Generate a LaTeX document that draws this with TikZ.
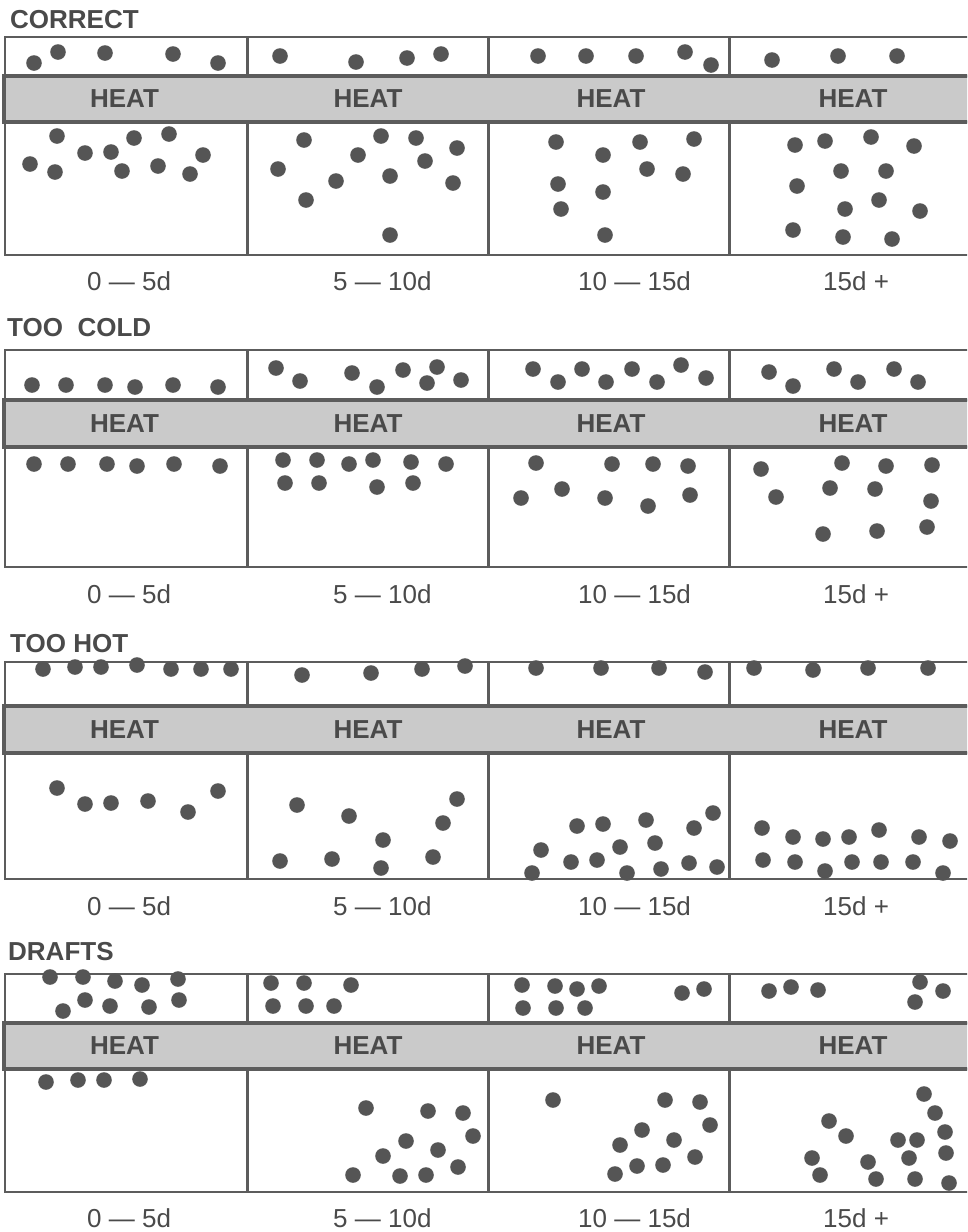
\documentclass[tikz,border=0pt]{standalone}
\usepackage{fontspec}
\setmainfont{Liberation Sans}
\definecolor{ink}{HTML}{4A4A4A}
\definecolor{linecol}{HTML}{5C5C5C}
\definecolor{dotcol}{HTML}{555555}
\definecolor{heatfill}{HTML}{CACACA}
\tikzset{
  boxline/.style={draw=linecol, line width=2pt},
  divline/.style={draw=linecol, line width=3pt},
  heatbar/.style={draw=linecol, line width=3.5pt, fill=heatfill},
  heattext/.style={text=ink, font=\fontsize{26}{30}\selectfont\bfseries, inner sep=0pt, anchor=center},
  titletext/.style={text=ink, font=\fontsize{26}{30}\selectfont\bfseries, inner sep=0pt, anchor=base west},
  labtext/.style={text=ink, font=\fontsize{26}{30}\selectfont, inner sep=0pt, anchor=base west},
  dotfill/.style={fill=dotcol}
}
\newcommand\heatrow[6]{%
  \draw[boxline] (5,#2) rectangle (985,#3);
  \draw[boxline] (5,#4) rectangle (985,#5);
  \foreach \xx in {247,488,729} {\draw[divline] (\xx,#2) -- (\xx,#3); \draw[divline] (\xx,#4) -- (\xx,#5);}
  \draw[heatbar] (4,#3) rectangle (990,#4);
  \node[heattext] (heat#1a) at (124.5,{(#3+#4)/2}) {HEAT};
  \node[heattext] (heat#1b) at (368,{(#3+#4)/2}) {HEAT};
  \node[heattext] (heat#1c) at (611,{(#3+#4)/2}) {HEAT};
  \node[heattext] (heat#1d) at (853,{(#3+#4)/2}) {HEAT};
  \node[labtext] (lab#1a) at (87,#6) {0 — 5d};
  \node[labtext] (lab#1b) at (333,#6) {5 — 10d};
  \node[labtext] (lab#1c) at (578,#6) {10 — 15d};
  \node[labtext] (lab#1d) at (823,#6) {15d +};
}
\newcommand\dotset[1]{\foreach \p in {#1} \fill[dotfill] \p circle[radius=7.8pt];}
\begin{document}
\begin{tikzpicture}[x=1pt,y=-1pt]
\useasboundingbox (0,0) rectangle (967,1232);
\clip (0,0) rectangle (967,1232);
\fill[white] (0,0) rectangle (967,1232);
% titles
\node[titletext] (t1) at (10,28) {CORRECT};
\node[titletext] (t2) at (7,336) {TOO\ \ COLD};
\node[titletext] (t3) at (10,652) {TOO HOT};
\node[titletext] (t4) at (8,960) {DRAFTS};
% rows
\heatrow{1}{37}{76}{122}{255}{290}
\heatrow{2}{350}{400}{447}{567}{603}
\heatrow{3}{662}{706}{753}{879}{915}
\heatrow{4}{974}{1023}{1069}{1192}{1227}
% CORRECT
\dotset{(34,63),(58,52),(105,53),(173,54),(218,63),
(280,56),(356,62),(407,58),(441,54),
(538,56),(586,56),(636,56),(685,52),(711,65),
(772,60),(838,56),(897,56),
(57,136),(30,164),(55,172),(85,153),(111,152),(134,138),(169,134),(122,171),(158,166),(203,155),(190,174),
(304,140),(278,169),(306,200),(336,181),(358,155),(381,136),(390,176),(416,138),(425,161),(457,148),(453,183),(390,235),
(556,142),(603,155),(640,142),(694,139),(558,184),(603,192),(647,169),(683,174),(561,209),(605,235),
(795,145),(825,141),(871,137),(914,146),(841,171),(886,171),(797,186),(879,200),(845,209),(920,211),(793,230),(843,237),(892,239)}
% TOO COLD
\dotset{(32,385),(66,385),(105,385),(135,387),(173,385),(218,387),
(276,368),(300,381),(352,373),(377,387),(403,370),(437,367),(427,383),(461,380),
(533,369),(558,382),(582,369),(606,382),(632,369),(657,382),(681,365),(706,378),
(769,372),(793,386),(834,369),(858,382),(894,369),(918,382),
(34,464),(68,464),(107,464),(137,466),(174,464),(220,466),
(283,460),(317,460),(349,464),(373,460),(411,462),(446,464),(285,483),(319,483),(377,487),(413,483),
(536,463),(612,464),(653,464),(688,466),(521,498),(562,489),(605,498),(648,506),(690,495),
(761,469),(842,463),(886,466),(932,465),(776,497),(830,488),(875,489),(931,501),(823,534),(877,531),(927,527)}
% TOO HOT
\dotset{(43,669),(75,667),(101,667),(137,665),(171,669),(201,669),(231,669),
(302,675),(371,673),(422,669),(465,666),
(536,668),(601,668),(659,668),(705,672),
(754,668),(813,670),(868,668),(928,668),
(57,788),(85,804),(111,803),(148,801),(188,812),(218,791),
(297,805),(349,816),(457,799),(443,823),(383,840),(280,861),(332,859),(381,868),(433,857),
(532,873),(541,850),(577,826),(603,824),(571,862),(597,860),(620,847),(627,873),(646,820),(655,843),(661,869),(694,828),(713,813),(689,863),(717,867),
(762,828),(793,837),(823,839),(849,837),(879,830),(919,837),(950,841),(763,860),(795,862),(825,871),(852,862),(881,862),(913,862),(943,873)}
% DRAFTS
\dotset{(50,977),(83,977),(115,981),(142,985),(178,979),(63,1011),(85,1000),(110,1006),(149,1007),(179,1000),
(271,983),(304,983),(351,985),(273,1006),(306,1006),(334,1006),
(522,985),(555,986),(577,989),(599,986),(523,1008),(556,1008),(585,1008),(682,993),(704,989),
(769,991),(791,987),(818,990),(920,982),(943,991),(915,1002),
(46,1082),(78,1080),(104,1080),(140,1079),
(366,1108),(428,1111),(463,1113),(473,1136),(406,1141),(438,1150),(383,1156),(458,1167),(353,1175),(400,1176),(426,1175),
(553,1100),(665,1100),(700,1102),(710,1125),(642,1130),(674,1140),(620,1145),(695,1157),(637,1166),(663,1165),(615,1174),
(924,1094),(935,1113),(829,1121),(846,1136),(945,1132),(898,1140),(917,1140),(946,1153),(812,1158),(909,1158),(868,1162),(820,1175),(876,1179),(915,1179),(949,1183)}
\end{tikzpicture}
\end{document}
